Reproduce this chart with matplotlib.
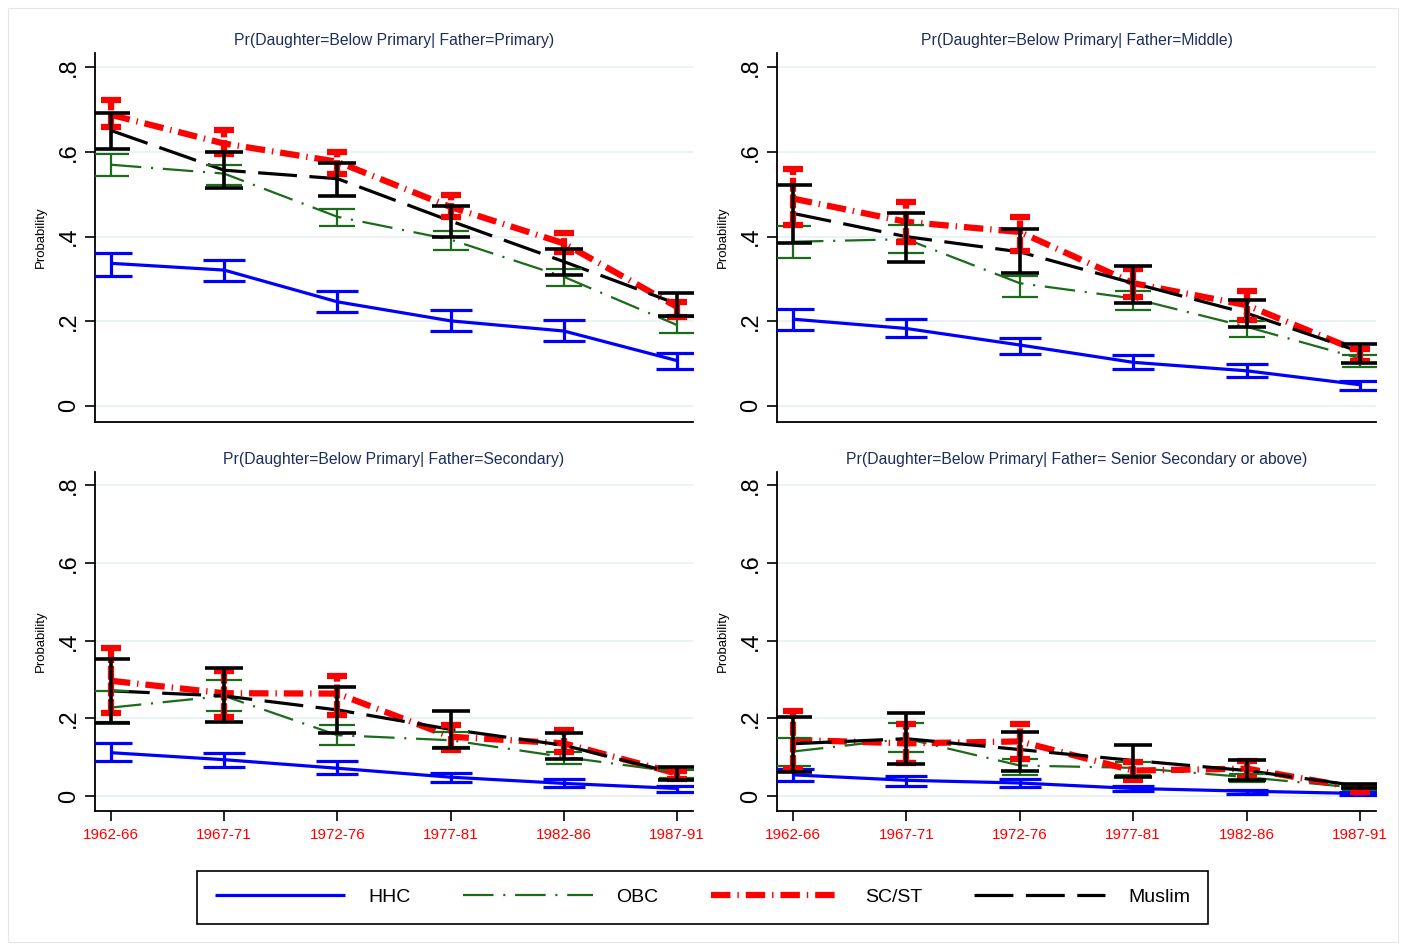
import matplotlib
matplotlib.use('Agg')
import matplotlib.pyplot as plt
import numpy as np

plt.rcParams['font.family'] = ['Liberation Sans', 'DejaVu Sans']
plt.rcParams['lines.scale_dashes'] = False

# cohorts
cohorts = ['1962-66', '1967-71', '1972-76', '1977-81', '1982-86', '1987-91']
groups = ['HHC', 'OBC', 'SC/ST', 'Muslim']

titles = ['Pr(Daughter=Below Primary| Father=Primary)',
          'Pr(Daughter=Below Primary| Father=Middle)',
          'Pr(Daughter=Below Primary| Father=Secondary)',
          'Pr(Daughter=Below Primary| Father= Senior Secondary or above)']

# ---- Father = Primary ----
p1_hhc = [0.337, 0.321, 0.246, 0.201, 0.177, 0.107]
p1_hhc_lo = [0.307, 0.295, 0.221, 0.177, 0.154, 0.087]
p1_hhc_hi = [0.362, 0.346, 0.271, 0.227, 0.203, 0.126]
p1_obc = [0.570, 0.549, 0.447, 0.393, 0.305, 0.191]
p1_obc_lo = [0.544, 0.522, 0.425, 0.368, 0.283, 0.173]
p1_obc_hi = [0.596, 0.569, 0.466, 0.413, 0.323, 0.211]
p1_sc = [0.688, 0.620, 0.577, 0.470, 0.384, 0.234]
p1_sc_lo = [0.659, 0.595, 0.547, 0.447, 0.364, 0.211]
p1_sc_hi = [0.724, 0.651, 0.600, 0.498, 0.408, 0.246]
p1_mus = [0.651, 0.557, 0.537, 0.437, 0.341, 0.241]
p1_mus_lo = [0.606, 0.515, 0.496, 0.398, 0.309, 0.213]
p1_mus_hi = [0.693, 0.600, 0.574, 0.472, 0.372, 0.266]

# ---- Father = Middle ----
p2_hhc = [0.205, 0.183, 0.144, 0.103, 0.083, 0.050]
p2_hhc_lo = [0.179, 0.162, 0.123, 0.087, 0.068, 0.038]
p2_hhc_hi = [0.228, 0.206, 0.160, 0.120, 0.098, 0.059]
p2_obc = [0.388, 0.394, 0.290, 0.254, 0.187, 0.112]
p2_obc_lo = [0.350, 0.362, 0.258, 0.227, 0.164, 0.093]
p2_obc_hi = [0.425, 0.427, 0.308, 0.272, 0.201, 0.120]
p2_sc = [0.490, 0.435, 0.411, 0.290, 0.238, 0.128]
p2_sc_lo = [0.427, 0.388, 0.366, 0.258, 0.203, 0.107]
p2_sc_hi = [0.559, 0.482, 0.447, 0.323, 0.272, 0.134]
p2_mus = [0.455, 0.400, 0.364, 0.290, 0.219, 0.128]
p2_mus_lo = [0.385, 0.341, 0.313, 0.244, 0.186, 0.101]
p2_mus_hi = [0.522, 0.457, 0.418, 0.331, 0.250, 0.146]

# ---- Father = Secondary ----
p3_hhc = [0.112, 0.094, 0.072, 0.049, 0.033, 0.020]
p3_hhc_lo = [0.090, 0.075, 0.058, 0.036, 0.025, 0.012]
p3_hhc_hi = [0.136, 0.112, 0.090, 0.059, 0.045, 0.027]
p3_obc = [0.228, 0.258, 0.157, 0.144, 0.101, 0.062]
p3_obc_lo = [0.190, 0.220, 0.133, 0.127, 0.082, 0.046]
p3_obc_hi = [0.271, 0.300, 0.183, 0.166, 0.114, 0.068]
p3_sc = [0.297, 0.265, 0.264, 0.153, 0.136, 0.058]
p3_sc_lo = [0.213, 0.205, 0.209, 0.118, 0.114, 0.045]
p3_sc_hi = [0.382, 0.322, 0.309, 0.183, 0.170, 0.066]
p3_mus = [0.271, 0.258, 0.222, 0.172, 0.131, 0.058]
p3_mus_lo = [0.189, 0.190, 0.162, 0.125, 0.097, 0.042]
p3_mus_hi = [0.354, 0.330, 0.281, 0.220, 0.162, 0.075]

# ---- Father = Senior Secondary or above ----
p4_hhc = [0.055, 0.041, 0.034, 0.020, 0.013, 0.007]
p4_hhc_lo = [0.038, 0.026, 0.024, 0.013, 0.007, 0.003]
p4_hhc_hi = [0.071, 0.052, 0.045, 0.026, 0.017, 0.011]
p4_obc = [0.115, 0.148, 0.079, 0.073, 0.049, 0.021]
p4_obc_lo = [0.077, 0.113, 0.055, 0.054, 0.037, 0.017]
p4_obc_hi = [0.149, 0.188, 0.095, 0.088, 0.058, 0.026]
p4_sc = [0.145, 0.136, 0.141, 0.066, 0.071, 0.020]
p4_sc_lo = [0.071, 0.085, 0.096, 0.043, 0.047, 0.011]
p4_sc_hi = [0.220, 0.186, 0.186, 0.088, 0.090, 0.026]
p4_mus = [0.135, 0.148, 0.120, 0.092, 0.066, 0.026]
p4_mus_lo = [0.062, 0.082, 0.065, 0.049, 0.043, 0.020]
p4_mus_hi = [0.203, 0.213, 0.166, 0.132, 0.092, 0.032]

panels = [
    [(p1_hhc, p1_hhc_lo, p1_hhc_hi), (p1_obc, p1_obc_lo, p1_obc_hi),
     (p1_sc, p1_sc_lo, p1_sc_hi), (p1_mus, p1_mus_lo, p1_mus_hi)],
    [(p2_hhc, p2_hhc_lo, p2_hhc_hi), (p2_obc, p2_obc_lo, p2_obc_hi),
     (p2_sc, p2_sc_lo, p2_sc_hi), (p2_mus, p2_mus_lo, p2_mus_hi)],
    [(p3_hhc, p3_hhc_lo, p3_hhc_hi), (p3_obc, p3_obc_lo, p3_obc_hi),
     (p3_sc, p3_sc_lo, p3_sc_hi), (p3_mus, p3_mus_lo, p3_mus_hi)],
    [(p4_hhc, p4_hhc_lo, p4_hhc_hi), (p4_obc, p4_obc_lo, p4_obc_hi),
     (p4_sc, p4_sc_lo, p4_sc_hi), (p4_mus, p4_mus_lo, p4_mus_hi)],
]

# line styles per group
colors = ['#0000ff', '#1a6b1a', '#ff0000', '#000000']
widths = [2.3, 1.6, 4.5, 2.3]
dashes = [None, (22, 7, 1.5, 7), (14, 5, 1, 5), (28, 9)]
cap_w = [15, 13, 7, 14]
bar_w = [2.3, 1.6, 4.5, 2.6]

fig = plt.figure(figsize=(14.06, 9.48), dpi=100)

# faint outer frame
fig.add_artist(plt.Rectangle((8 / 1406, 6 / 948), 1390 / 1406, 934 / 948,
                             transform=fig.transFigure, fill=False,
                             edgecolor='#e6e6e6', lw=0.8))

# axes positions [left, bottom, width, height]
pos = [[95 / 1406, 1 - 422 / 948, 598 / 1406, 369 / 948],
       [777 / 1406, 1 - 422 / 948, 599 / 1406, 369 / 948],
       [95 / 1406, 1 - 811 / 948, 598 / 1406, 339 / 948],
       [777 / 1406, 1 - 811 / 948, 599 / 1406, 339 / 948]]

x = np.arange(len(cohorts))
handles = []
for k in range(4):
    ax = fig.add_axes(pos[k])
    for g in range(4):
        mid, lo, hi = [np.array(v) for v in panels[k][g]]
        ln, = ax.plot(x, mid, color=colors[g], lw=widths[g], zorder=3 + g,
                      solid_capstyle='butt', dash_capstyle='butt')
        if dashes[g] is not None:
            ln.set_dashes(dashes[g])
        if k == 0:
            handles.append(ln)
    for g in range(4):
        mid, lo, hi = [np.array(v) for v in panels[k][g]]
        eb = ax.errorbar(x, mid, yerr=[mid - lo, hi - mid], fmt='none',
                         ecolor=colors[g], elinewidth=bar_w[g], capsize=cap_w[g],
                         capthick=bar_w[g], zorder=8 + g)
        if g == 2:
            eb[2][0].set_linestyle((0, (10, 2)))

    ax.set_xlim(-0.14, 5.14)
    ax.set_ylim(-0.038, 0.834)
    ax.set_yticks([0, 0.2, 0.4, 0.6, 0.8])
    ax.set_yticklabels(['0', '.2', '.4', '.6', '.8'], rotation=90,
                       va='center', fontsize=17)
    ax.grid(axis='y', color='#eaf2f3', lw=1.5, zorder=0)
    ax.set_axisbelow(True)
    for s in ['top', 'right']:
        ax.spines[s].set_visible(False)
    ax.spines['left'].set_linewidth(1.3)
    ax.spines['bottom'].set_linewidth(1.3)
    ax.tick_params(axis='y', length=7, width=1.2, pad=4)
    ax.set_ylabel('Probability', fontsize=9.5)
    ax.yaxis.set_label_coords(-0.08, 0.5)
    ax.set_title(titles[k], fontsize=11.3, color='#1c2d5c', pad=6)
    ax.set_xticks(x)
    if k >= 2:
        ax.set_xticklabels(cohorts, color='#ff0000', fontsize=11)
        ax.tick_params(axis='x', length=7, width=1.2, pad=5)
    else:
        ax.set_xticklabels([])
        ax.tick_params(axis='x', length=0)

leg = fig.legend(handles, groups, loc='center', bbox_to_anchor=(0.4995, 0.0533),
                 ncol=4, fontsize=14, handlelength=6.7, handletextpad=1.2,
                 columnspacing=2.7, borderpad=0.9, fancybox=False,
                 edgecolor='black', framealpha=1)
leg.get_frame().set_linewidth(1.2)

fig.savefig('out.png', dpi=100)
